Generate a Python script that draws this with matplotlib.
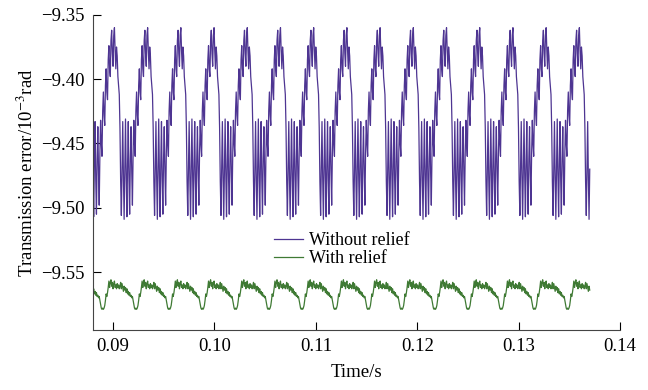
import numpy as np
import matplotlib.pyplot as plt

plt.rcParams['font.family'] = ['Liberation Serif', 'DejaVu Serif']
plt.rcParams['mathtext.fontset'] = 'stix'

# --- données ---
# une période de l'erreur de transmission (48 échantillons, début = creux bas)
period_s = 0.003274
t_start = 0.08803
t_end = 0.13704
phase0 = 9  # indice de l'échantillon au début de l'enregistrement

without_relief = [
    -9.438, -9.480, -9.506, -9.468, -9.433, -9.476, -9.509, -9.470,
    -9.431, -9.474, -9.507, -9.466, -9.433, -9.478, -9.505, -9.462,
    -9.437, -9.472, -9.498, -9.458,
    -9.432, -9.450, -9.460, -9.425, -9.410, -9.428, -9.436, -9.405,
    -9.392, -9.410, -9.416, -9.385, -9.374, -9.392, -9.398, -9.370,
    -9.362, -9.380, -9.390, -9.366, -9.360, -9.378, -9.392, -9.375,
    -9.382, -9.398, -9.405, -9.412,
]
with_relief = [
    -9.561, -9.558, -9.563, -9.559, -9.562, -9.565, -9.561, -9.564,
    -9.562, -9.566, -9.563, -9.567, -9.565, -9.568, -9.566, -9.569,
    -9.568, -9.570, -9.569, -9.572, -9.575,
    -9.578, -9.579, -9.578, -9.579, -9.578, -9.576, -9.572,
    -9.567, -9.569, -9.566, -9.562, -9.557, -9.562, -9.558, -9.556,
    -9.561, -9.558, -9.563, -9.559, -9.557, -9.562, -9.560, -9.563,
    -9.559, -9.562, -9.560, -9.563,
]

labels = ["Without relief", "With relief"]
colors = ["#4e3592", "#3f7a34"]

# --- série temporelle (répétition de la période) ---
n_per = len(without_relief)
dt = period_s / n_per
n = int((t_end - t_start) / dt) + 1
idx = (np.arange(n) + phase0) % n_per
t = t_start + np.arange(n) * dt
y1 = np.array(without_relief)[idx]
y2 = np.array(with_relief)[idx]

fig = plt.figure(figsize=(6.48, 3.9), dpi=100)
ax = fig.add_axes([0.1435, 0.154, 0.8135, 0.808])
ax.plot(t, y1, color=colors[0], lw=0.9, label=labels[0])
ax.plot(t, y2, color=colors[1], lw=0.9, label=labels[1])

ax.set_xlim(0.08803, 0.14)
ax.set_ylim(-9.595, -9.35)
ax.set_xticks([0.09, 0.10, 0.11, 0.12, 0.13, 0.14])
ax.set_xticklabels(["0.09", "0.10", "0.11", "0.12", "0.13", "0.14"])
ax.set_yticks([-9.55, -9.50, -9.45, -9.40, -9.35])
ax.set_yticklabels(["\u22129.55", "\u22129.50", "\u22129.45", "\u22129.40", "\u22129.35"])
ax.tick_params(direction="in", length=6, width=0.8, labelsize=13.5, pad=6)
for s in ["top", "right"]:
    ax.spines[s].set_visible(False)
for s in ["left", "bottom"]:
    ax.spines[s].set_color("#444444")

ax.set_xlabel("Time/s", fontsize=13.5, labelpad=6)
ax.set_ylabel("Transmission error/10$^{-3}$rad", fontsize=13.5, labelpad=3)

ax.legend(loc="upper left", bbox_to_anchor=(0.32, 0.35), frameon=False,
          fontsize=13, handlelength=1.6, handletextpad=0.3, labelspacing=0.05,
          borderpad=0.2)

fig.savefig("out.png", dpi=100)
